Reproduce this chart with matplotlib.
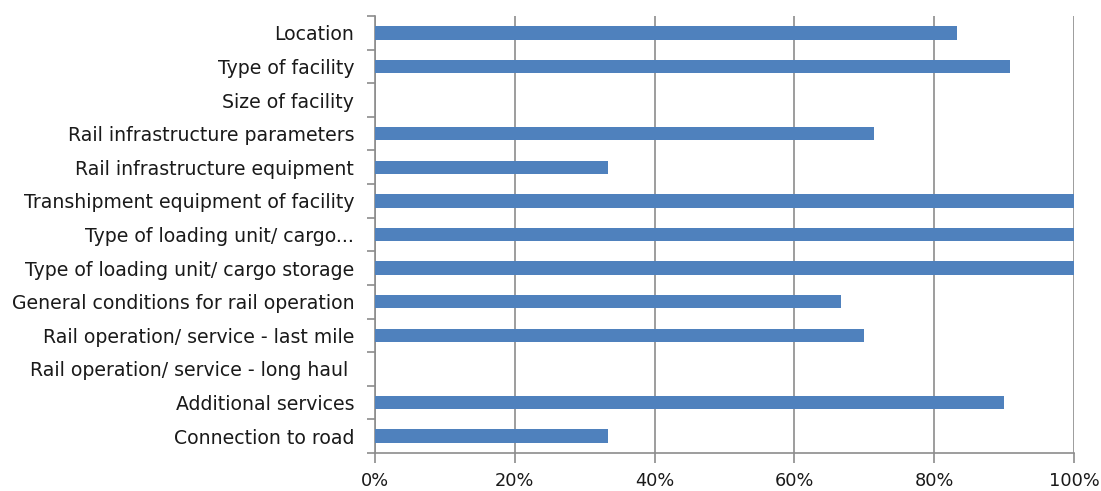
import numpy as np
import matplotlib.pyplot as plt
from matplotlib.ticker import FixedLocator, PercentFormatter

categories = [
    "Location",
    "Type of facility",
    "Size of facility",
    "Rail infrastructure parameters",
    "Rail infrastructure equipment",
    "Transhipment equipment of facility",
    "Type of loading unit/ cargo...",
    "Type of loading unit/ cargo storage",
    "General conditions for rail operation",
    "Rail operation/ service - last mile",
    "Rail operation/ service - long haul ",
    "Additional services",
    "Connection to road",
]
shares = [83.3, 90.9, 0.0, 71.4, 33.3, 100.0, 100.0, 100.0, 66.7, 70.0, 0.0, 90.0, 33.3]
x_ticks = [0, 20, 40, 60, 80, 100]

bar_color = "#4F81BD"
grid_color = "#8C8C8C"
text_color = "#1A1A1A"

plt.rcParams["font.family"] = ["DejaVu Sans"]

fig = plt.figure(figsize=(11.01, 4.91), dpi=100)
ax = fig.add_axes([375 / 1101, 1 - 453 / 491, 699 / 1101, 437 / 491])

# top category first
y = np.arange(len(categories))[::-1]
ax.barh(y, shares, height=0.4, color=bar_color, zorder=3)

ax.set_xlim(0, 100)
ax.set_ylim(-0.5, len(categories) - 0.5)

ax.set_xticks(x_ticks)
ax.xaxis.set_major_formatter(PercentFormatter(decimals=0))
ax.grid(axis="x", color=grid_color, linewidth=1.2, zorder=0)

# labels at bar centres, tick marks at category boundaries
ax.set_yticks(y)
ax.set_yticklabels(categories)
ax.yaxis.set_minor_locator(FixedLocator(np.arange(-0.5, len(categories), 1.0)))
ax.tick_params(axis="y", which="major", length=0, pad=15, labelsize=13.6, labelcolor=text_color)
ax.tick_params(axis="y", which="minor", length=6, width=1.2, color=grid_color)
ax.tick_params(axis="x", length=7, width=1.2, color=grid_color, pad=7,
               labelsize=12.8, labelcolor=text_color)

for side in ["top", "right"]:
    ax.spines[side].set_visible(False)
for side in ["left", "bottom"]:
    ax.spines[side].set_color(grid_color)
    ax.spines[side].set_linewidth(1.2)

fig.savefig("out.png", dpi=100, facecolor="white")
